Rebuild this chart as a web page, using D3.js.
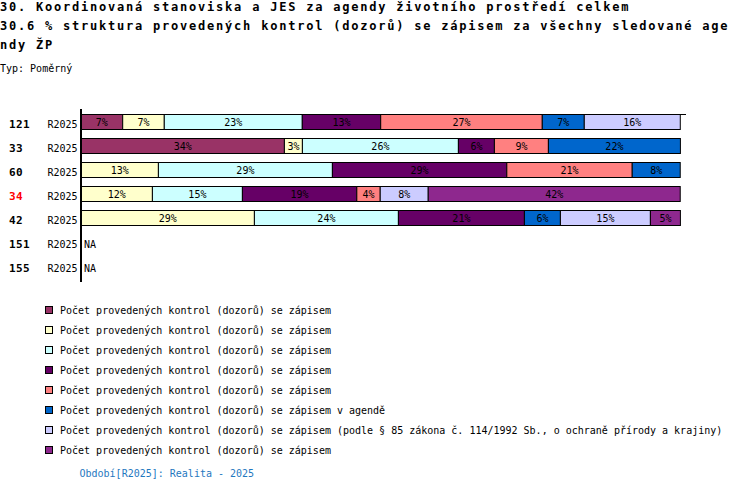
<!DOCTYPE html>
<html><head><meta charset="utf-8">
<script src="https://cdn.jsdelivr.net/npm/d3@7/dist/d3.min.js"></script>
<style>
html,body{margin:0;padding:0;background:#fff;}
svg{display:block;}
text{font-family:"DejaVu Sans Mono",monospace;}
</style></head>
<body>
<svg id="chart" width="750" height="492"></svg>
<script>
const titleLines = [
  "30. Koordinovaná stanoviska a JES za agendy životního prostředí celkem",
  "30.6 % struktura provedených kontrol (dozorů) se zápisem za všechny sledované age",
  "ndy ŽP"
];
const subtitle = "Typ: Poměrný";
const categories = ["121", "33", "60", "34", "42", "151", "155"];
const highlighted = ["34"];
const periods = ["R2025", "R2025", "R2025", "R2025", "R2025", "R2025", "R2025"];
const hasData = [true, true, true, true, true, false, false];
const seriesNames = [
  "Počet provedených kontrol (dozorů) se zápisem",
  "Počet provedených kontrol (dozorů) se zápisem",
  "Počet provedených kontrol (dozorů) se zápisem",
  "Počet provedených kontrol (dozorů) se zápisem",
  "Počet provedených kontrol (dozorů) se zápisem",
  "Počet provedených kontrol (dozorů) se zápisem v agendě",
  "Počet provedených kontrol (dozorů) se zápisem (podle § 85 zákona č. 114/1992 Sb., o ochraně přírody a krajiny)",
  "Počet provedených kontrol (dozorů) se zápisem"
];
const seriesColors = ["#993366", "#FFFFCC", "#CCFFFF", "#660066", "#FF8080", "#0066CC", "#CCCCFF", "#8E288E"];
// percentage values per series, one per category
const s1 = [6.95, 33.9, 0, 0, 0, 0, 0];
const s2 = [6.93, 3.0, 12.9, 11.9, 28.9, 0, 0];
const s3 = [23.0, 26.0, 29.0, 15.0, 24.0, 0, 0];
const s4 = [13.07, 6.0, 29.07, 19.07, 21.0, 0, 0];
const s5 = [26.93, 9.0, 20.9, 3.9, 0, 0, 0];
const s6 = [7.0, 22.0, 8.0, 0, 6.0, 0, 0];
const s7 = [16.0, 0, 0, 8.0, 15.0, 0, 0];
const s8 = [0, 0, 0, 42.0, 5.0, 0, 0];
const footer = "Období[R2025]: Realita - 2025";

const series = [s1, s2, s3, s4, s5, s6, s7, s8];
const keys = series.map((_, i) => "s" + i);
const table = categories.map((c, j) => {
  const row = {cat: c};
  series.forEach((s, i) => row[keys[i]] = s[j]);
  return row;
});

const svg = d3.select("#chart");

// Title
const tBase = [11, 30, 49];
svg.selectAll("text.title").data(titleLines).enter().append("text")
  .attr("class", "title")
  .attr("x", 0).attr("y", (d, i) => tBase[i])
  .attr("font-size", 12).attr("font-weight", "bold")
  .attr("letter-spacing", "1.78px")
  .attr("fill", "#000")
  .text(d => d);
svg.append("text").attr("x", 0).attr("y", 72).attr("font-size", 10).attr("fill", "#000").text(subtitle);

const x = d3.scaleLinear().domain([0, 100]).range([81, 681]);
const y = d3.scaleBand().domain(categories).range([109.5, 277.5]).paddingInner(0.375).paddingOuter(0.1875);

const stack = d3.stack().keys(keys);
const stacked = stack(table);

const g = svg.append("g");
stacked.forEach((layer, i) => {
  g.selectAll(null).data(layer.filter(d => (d[1] - d[0]) > 0)).enter().append("rect")
    .attr("x", d => x(d[0]))
    .attr("y", d => y(d.data.cat) + 0.5)
    .attr("width", d => x(d[1]) - x(d[0]))
    .attr("height", y.bandwidth())
    .attr("fill", seriesColors[i])
    .attr("stroke", "#000").attr("stroke-width", 1);
});
stacked.forEach((layer, i) => {
  g.selectAll(null).data(layer.filter(d => (d[1] - d[0]) > 0)).enter().append("text")
    .attr("x", d => (x(d[0]) + x(d[1])) / 2)
    .attr("y", d => y(d.data.cat) + y.bandwidth() / 2 + 4.5)
    .attr("text-anchor", "middle")
    .attr("font-size", 10)
    .attr("fill", "#000")
    .text(d => Math.round(d[1] - d[0]) + "%");
});

// axes lines
svg.append("line").attr("x1", 81).attr("x2", 686).attr("y1", 114.5).attr("y2", 114.5).attr("stroke", "#000").attr("stroke-width", 1);
svg.append("line").attr("x1", 81).attr("x2", 81).attr("y1", 109).attr("y2", 282).attr("stroke", "#000").attr("stroke-width", 2);

// row labels
categories.forEach((c, j) => {
  const cy = y(c) + y.bandwidth() / 2 + 0.5;
  svg.append("text").attr("x", 9).attr("y", cy + 6)
    .attr("font-size", 11).attr("font-weight", "bold")
    .attr("letter-spacing", "0.4px")
    .attr("fill", highlighted.includes(c) ? "#FF0000" : "#000").text(c);
  svg.append("text").attr("x", 47.5).attr("y", cy + 6)
    .attr("font-size", 10).attr("fill", "#000").text(periods[j]);
  if (!hasData[j]) {
    svg.append("text").attr("x", 84).attr("y", cy + 6)
      .attr("font-size", 10).attr("fill", "#000").text("NA");
  }
});

// legend
const leg = svg.append("g");
seriesNames.forEach((name, i) => {
  const yy = 306 + i * 20;
  leg.append("rect").attr("x", 45.5).attr("y", yy + 0.5).attr("width", 7).attr("height", 7)
    .attr("fill", seriesColors[i]).attr("stroke", "#000").attr("stroke-width", 1);
  leg.append("text").attr("x", 60).attr("y", yy + 7.5).attr("font-size", 10).attr("fill", "#000").text(name);
});

svg.append("text").attr("x", 79.5).attr("y", 477).attr("font-size", 10).attr("fill", "#1F78C0").text(footer);
</script>
</body></html>
